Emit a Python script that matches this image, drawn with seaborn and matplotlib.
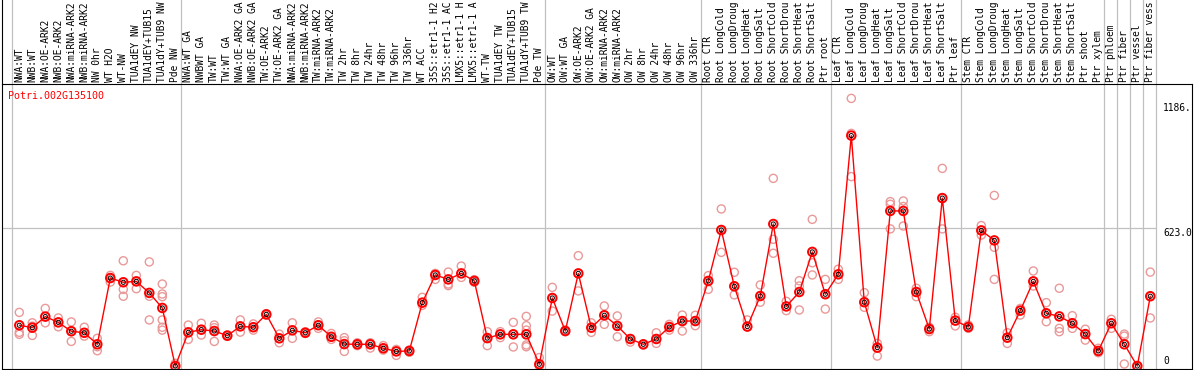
import matplotlib
matplotlib.use("Agg")
import matplotlib.pyplot as plt
import numpy as np
import pandas as pd
import seaborn as sns

gene = "Potri.002G135100"

# sample labels as they appear (truncated) in the reference header
labels = [
    "NWA:WT", "NWB:WT", "NWA:OE-ARK2", "NWB:OE-ARK2", "NWA:miRNA-ARK2", "NWB:miRNA-ARK2",
    "NW 0hr", "WT H2O", "WT-NW", "TUA1dEY NW", "TUA1dEY+TUB15", "TUA1dY+TUB9 NW", "Pde NW",
    "NWA:WT GA", "NWBWT GA", "TW:WT", "TW:WT GA", "NWA:OE-ARK2 GA", "NWB:OE-ARK2 GA",
    "TW:OE-ARK2", "TW:OE-ARK2 GA", "NWA:miRNA-ARK2", "NWB:miRNA-ARK2", "TW:miRNA-ARK2",
    "TW:miRNA-ARK2", "TW 2hr", "TW 8hr", "TW 24hr", "TW 48hr", "TW 96hr", "TW 336hr",
    "WT ACC", "35S::etr1-1 H2", "35S::etr1-1 AC", "LMX5::etr1-1 H", "LMX5::etr1-1 A",
    "WT-TW", "TUA1dEY TW", "TUA1dEY+TUB15", "TUA1dY+TUB9 TW", "Pde TW",
    "OW:WT", "OW:WT GA", "OW:OE-ARK2", "OW:OE-ARK2 GA", "OW:miRNA-ARK2", "OW:miRNA-ARK2",
    "OW 2hr", "OW 8hr", "OW 24hr", "OW 48hr", "OW 96hr", "OW 336hr",
    "Root CTR", "Root LongCold", "Root LongDroug", "Root LongHeat", "Root LongSalt",
    "Root ShortCold", "Root ShortDrou", "Root ShortHeat", "Root ShortSalt", "Ptr root",
    "Leaf CTR", "Leaf LongCold", "Leaf LongDroug", "Leaf LongHeat", "Leaf LongSalt",
    "Leaf ShortCold", "Leaf ShortDrou", "Leaf ShortHeat", "Leaf ShortSalt", "Ptr leaf",
    "Stem CTR", "Stem LongCold", "Stem LongDroug", "Stem LongHeat", "Stem LongSalt",
    "Stem ShortCold", "Stem ShortDrou", "Stem ShortHeat", "Stem ShortSalt", "Ptr shoot",
    "Ptr xylem", "Ptr phloem", "Ptr fiber", "Ptr vessel", "Ptr fiber vess",
]

means = [
    184, 173, 223, 197, 157, 150, 98, 397, 378, 382, 330, 262, 0,
    152, 164, 158, 137, 179, 175, 233, 125, 161, 150, 184, 132, 99, 98, 98, 80, 66, 68,
    286, 411, 391, 418, 384, 126, 143, 143, 143, 8,
    307, 158, 418, 173, 229, 181, 122, 98, 122, 176, 203, 203,
    384, 614, 360, 178, 316, 641, 269, 334, 515, 324,
    414, 1040, 288, 83, 700, 700, 334, 167, 758, 205,
    176, 612, 567, 128, 250, 382, 238, 224, 193, 144, 68,
    193, 98, 0, 315,
]

reps = [
    [242, 152, 143], [195, 180, 138], [260, 223, 195], [217, 197, 177], [199, 157, 111],
    [175, 150, 135], [125, 87, 69], [409, 397, 379], [475, 346, 315], [409, 382, 349],
    [470, 315, 208], [370, 325, 313, 208, 175, 162], [12, 0],
    [185, 152, 120], [193, 164, 140], [185, 173, 111], [140, 137, 134], [208, 179, 153],
    [190, 175, 162], [236, 233, 230], [144, 125, 105], [195, 161, 125], [155, 147],
    [199, 184, 170], [147, 132, 120], [128, 114, 66], [105, 98, 92], [105, 98, 81],
    [92, 80, 72], [75, 66, 48], [72, 68, 62], [310, 286, 274], [418, 411, 391],
    [424, 391, 370, 363], [451, 418, 400], [390, 384, 378], [155, 126, 92],
    [155, 143, 128], [197, 143, 86], [224, 182, 162, 95, 87], [38, 8, 0],
    [355, 307, 248], [162, 158, 155], [498, 418, 339], [195, 173, 152], [271, 229, 188],
    [226, 181, 132], [122, 108], [98, 95], [150, 122, 102], [188, 176, 162],
    [230, 203, 158], [229, 203, 182],
    [408, 384, 346], [709, 614, 513], [423, 360, 321], [208, 178], [366, 316, 288],
    [847, 572, 509], [292, 269, 250], [385, 361, 253], [662, 466, 411], [391, 324, 257],
    [437, 414, 391], [1208, 1050, 855], [331, 288, 265], [102, 83, 45], [742, 730, 619],
    [745, 720, 632], [351, 334, 313], [175, 167, 155], [892, 758, 619], [220, 205, 181],
    [185, 176, 170], [634, 612, 591], [770, 536, 391], [150, 128, 102], [260, 250, 230],
    [429, 382, 361], [286, 238, 200], [351, 170, 155], [227, 193, 170], [166, 144, 117],
    [80, 68, 60],
    [211, 193, 170], [144, 135, 9], [0, 0], [424, 315, 217],
]

group_ends = [12, 40, 52, 62, 72, 83, 84, 85, 86, 87]
grid_value = 623.0
tick_values = [0, 623.0, 1186.0]
tick_texts = ["0", "623.0", "1186."]

sns.set_theme(style="white")
plt.rcParams["font.family"] = ["DejaVu Sans Mono", "DejaVu Sans"]

W, H = 1194, 370
fig = plt.figure(figsize=(W / 100, H / 100), dpi=100)
ax = fig.add_axes([2 / W, 1 / H, 1190 / W, 285 / H])

mean_df = pd.DataFrame({"x": np.arange(len(means)), "v": means})
rep_df = pd.DataFrame(
    [(i, v) for i, r in enumerate(reps) for v in r], columns=["x", "v"]
)

grey = "#c0c0c0"
sns.scatterplot(data=rep_df, x="x", y="v", ax=ax, s=34, marker="o",
                facecolors="none", edgecolor="#ea9999", linewidth=1.0, zorder=3,
                legend=False)
sns.lineplot(data=mean_df, x="x", y="v", ax=ax, color="red", lw=1.0,
             estimator=None, sort=False, zorder=4, legend=False)
sns.scatterplot(data=mean_df, x="x", y="v", ax=ax, s=38, marker="o",
                facecolors="none", edgecolor="red", linewidth=1.4, zorder=5,
                legend=False)
sns.scatterplot(data=mean_df, x="x", y="v", ax=ax, s=9, marker="o",
                facecolors="none", edgecolor="black", linewidth=0.7, zorder=6,
                legend=False)

xmin = -(19.3 - 2) / 13.0
xmax = xmin + 1190 / 13.0
ax.set_xlim(xmin, xmax)
ax.set_ylim(-13.5, 1273)
ax.set_xticks([])
ax.set_yticks([])
ax.set_xlabel("")
ax.set_ylabel("")
for s in ax.spines.values():
    s.set_color("black")
    s.set_linewidth(0.8)

seps = [-0.6] + [e + 0.4 for e in group_ends]
ax.vlines(seps, 0, 1.3, transform=ax.get_xaxis_transform(), colors=grey,
          lw=0.9, clip_on=False, zorder=1)
ax.plot([0, 0], [1, 1.3], transform=ax.transAxes, color="black", lw=0.8,
        clip_on=False)
ax.hlines(grid_value, xmin, group_ends[-1] + 0.4, colors=grey, lw=0.9, zorder=1)

for i, lab in enumerate(labels):
    ax.text(i, 1 + 2 / 285, lab, rotation=90, ha="center", va="bottom",
            transform=ax.get_xaxis_transform(), fontsize=6.9, color="black",
            clip_on=False)

xt = (1163 - 19.3) / 13.0
for v, t in zip(tick_values, tick_texts):
    ax.text(xt, v, t, ha="left", va="bottom" if v == 0 else "top",
            fontsize=6.9, color="black")

ax.text(6 / 1190, 1 - 7 / 285, gene, transform=ax.transAxes, ha="left",
        va="top", fontsize=7.2, color="red")

fig.savefig("out.png", dpi=100)
